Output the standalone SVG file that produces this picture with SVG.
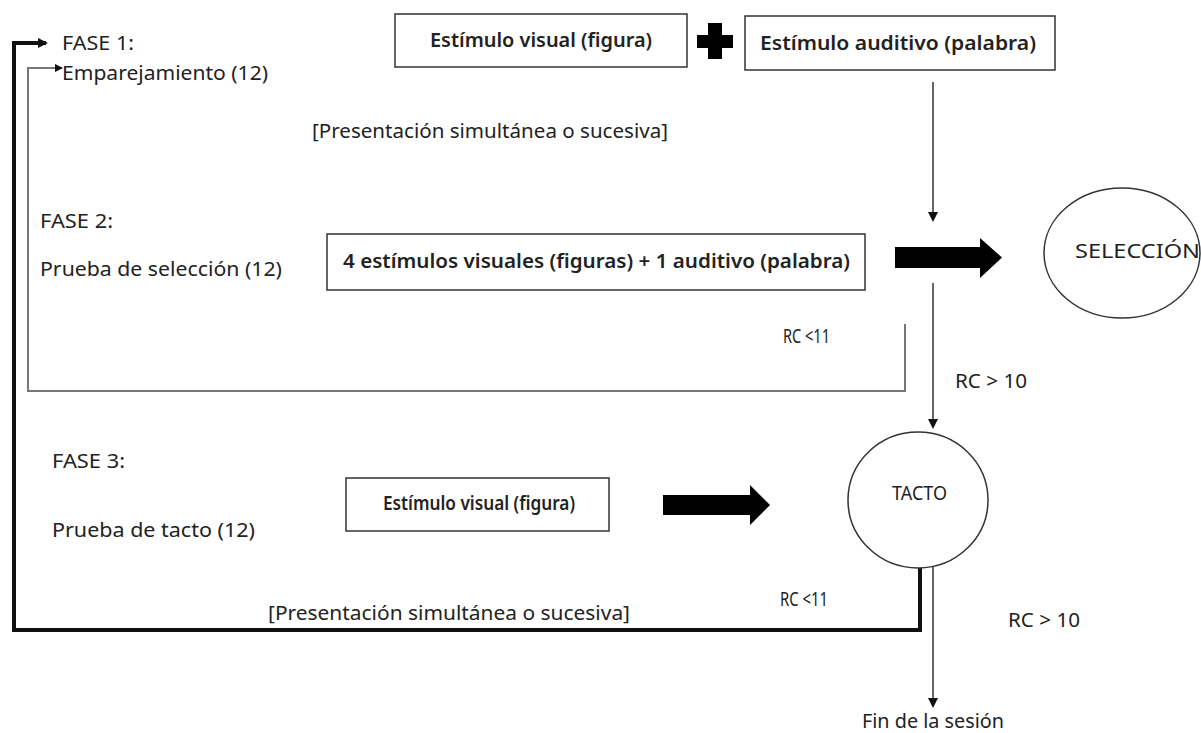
<svg xmlns="http://www.w3.org/2000/svg" width="1201" height="733" viewBox="0 0 1201 733">
<defs>
<style>
.t{font-family:"Noto Sans","Open Sans",sans-serif;font-size:19px;fill:#222}
.b{font-family:"Noto Sans","Open Sans",sans-serif;font-size:19px;font-weight:600;fill:#222}
.box{fill:#fff;stroke:#333;stroke-width:1.5}
.ell{fill:#fff;stroke:#333;stroke-width:1.5}
.thin{fill:none;stroke:#333;stroke-width:1.5}
</style>
<marker id="ah" markerWidth="10" markerHeight="10" refX="8" refY="5" orient="auto" markerUnits="userSpaceOnUse">
<path d="M0,0 L10,5 L0,10 Z" fill="#111"/>
</marker>
<marker id="ahs" markerWidth="8" markerHeight="8" refX="7" refY="4" orient="auto" markerUnits="userSpaceOnUse">
<path d="M0,0 L8,4 L0,8 Z" fill="#111"/>
</marker>
</defs>
<rect width="1201" height="733" fill="#fff"/>

<g id="connectors">
<polyline points="920,565 920,630 14,630 14,43 46,43" fill="none" stroke="#111" stroke-width="4" marker-end="url(#ah)"/>
<polyline points="905,324 905,391 28,391 28,68 62,68" fill="none" stroke="#777" stroke-width="2" marker-end="url(#ahs)"/>
<line x1="933" y1="82" x2="933" y2="220" class="thin" marker-end="url(#ah)"/>
<line x1="933" y1="283" x2="933" y2="427" class="thin" marker-end="url(#ah)"/>
<line x1="933" y1="565" x2="933" y2="706" class="thin" marker-end="url(#ah)"/>
<path d="M895,247 H980 V238 L1002,257.5 L980,278 V268 H895 Z" fill="#000"/>
<path d="M663,495 H750 V485 L770,505 L750,525 V515 H663 Z" fill="#000"/>
<path d="M708,23 H722 V35 H733 V48 H722 V59 H708 V48 H697 V35 H708 Z" fill="#000"/>
</g>

<g id="fase1">
<text class="t" x="62" y="50" textLength="72" lengthAdjust="spacingAndGlyphs">FASE 1:</text>
<text class="t" x="62" y="80" textLength="206" lengthAdjust="spacingAndGlyphs">Emparejamiento (12)</text>
</g>
<g id="visual1">
<rect class="box" x="395" y="14" width="292" height="53"/>
<text class="b" x="430" y="47" textLength="222" lengthAdjust="spacingAndGlyphs">Estímulo visual (figura)</text>
</g>
<g id="auditivo">
<rect class="box" x="745" y="16" width="310" height="54"/>
<text class="b" x="760" y="50" textLength="276" lengthAdjust="spacingAndGlyphs">Estímulo auditivo (palabra)</text>
</g>
<g id="presentacion1">
<text class="t" x="312" y="138" textLength="356" lengthAdjust="spacingAndGlyphs">[Presentación simultánea o sucesiva]</text>
</g>
<g id="fase2">
<text class="t" x="40" y="228" textLength="73" lengthAdjust="spacingAndGlyphs">FASE 2:</text>
<text class="t" x="40" y="276" textLength="242" lengthAdjust="spacingAndGlyphs">Prueba de selección (12)</text>
</g>
<g id="cuatro">
<rect class="box" x="327" y="234" width="538" height="56"/>
<text class="b" x="343" y="268" textLength="507" lengthAdjust="spacingAndGlyphs">4 estímulos visuales (figuras) + 1 auditivo (palabra)</text>
</g>
<g id="seleccion">
<ellipse class="ell" cx="1122" cy="253" rx="78" ry="65"/>
<text class="t" x="1075" y="258" textLength="125" lengthAdjust="spacingAndGlyphs">SELECCIÓN</text>
</g>
<g id="labels2">
<text class="t" x="783" y="343" textLength="47" lengthAdjust="spacingAndGlyphs">RC &lt;11</text>
<text class="t" x="955" y="388" textLength="72" lengthAdjust="spacingAndGlyphs">RC &gt; 10</text>
</g>
<g id="fase3">
<text class="t" x="52" y="468" textLength="73" lengthAdjust="spacingAndGlyphs">FASE 3:</text>
<text class="t" x="52" y="537" textLength="203" lengthAdjust="spacingAndGlyphs">Prueba de tacto (12)</text>
</g>
<g id="visual2">
<rect class="box" x="346" y="478" width="263" height="53"/>
<text class="b" x="383" y="510" textLength="192" lengthAdjust="spacingAndGlyphs">Estímulo visual (figura)</text>
</g>
<g id="tacto">
<ellipse class="ell" cx="918" cy="500" rx="70" ry="68"/>
<text class="t" x="892" y="500" textLength="55" lengthAdjust="spacingAndGlyphs">TACTO</text>
</g>
<g id="labels3">
<text class="t" x="780" y="606" textLength="48" lengthAdjust="spacingAndGlyphs">RC &lt;11</text>
<text class="t" x="268" y="620" textLength="362" lengthAdjust="spacingAndGlyphs">[Presentación simultánea o sucesiva]</text>
<text class="t" x="1008" y="627" textLength="72" lengthAdjust="spacingAndGlyphs">RC &gt; 10</text>
</g>
<g id="fin">
<text class="t" x="862" y="728" textLength="142" lengthAdjust="spacingAndGlyphs">Fin de la sesión</text>
</g>
</svg>
